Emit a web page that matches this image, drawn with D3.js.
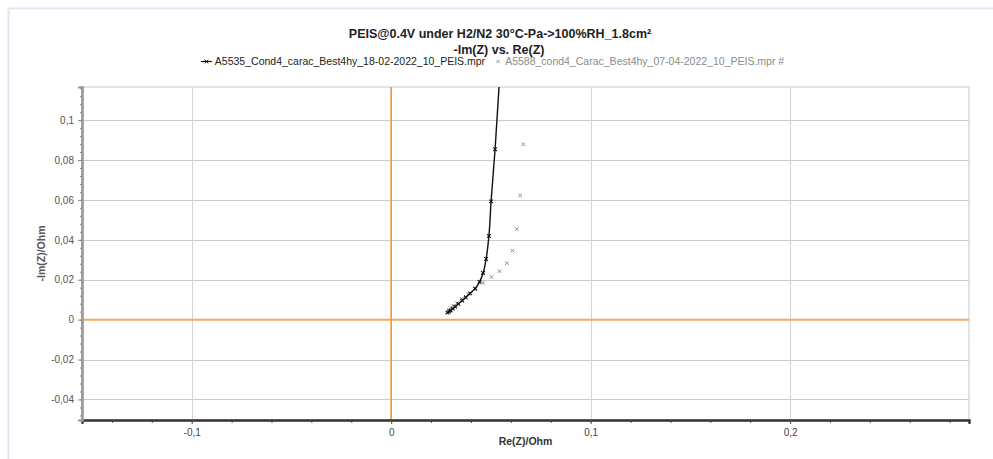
<!DOCTYPE html>
<html>
<head>
<meta charset="utf-8">
<script src="https://cdn.jsdelivr.net/npm/d3@7"></script>
<style>
  html, body { margin: 0; padding: 0; background: #fff; }
  svg { display: block; font-family: "Liberation Sans", Arial, sans-serif; }
</style>
</head>
<body>
<svg id="chart" width="993" height="459"></svg>
<script>
// Nyquist data: Re(Z) and -Im(Z) in Ohm
const seriesNames = [
  "A5535_Cond4_carac_Best4hy_18-02-2022_10_PEIS.mpr",
  "A5588_cond4_Carac_Best4hy_07-04-2022_10_PEIS.mpr #"
];
const reA = [0.0282, 0.0290, 0.0298, 0.0309, 0.0321, 0.0337, 0.0356, 0.0374, 0.0396, 0.0421, 0.0443, 0.0461, 0.0476, 0.0490, 0.0501, 0.0521, 0.0548];
const imA = [0.0035, 0.0040, 0.0046, 0.0055, 0.0065, 0.0079, 0.0095, 0.0112, 0.0132, 0.0155, 0.0189, 0.0234, 0.0304, 0.0420, 0.0593, 0.0854, 0.1280];
const reB = [0.0289, 0.0299, 0.0313, 0.0329, 0.0354, 0.0386, 0.0421, 0.0460, 0.0503, 0.0543, 0.0580, 0.0608, 0.0630, 0.0647, 0.0663];
const imB = [0.0049, 0.0057, 0.0069, 0.0082, 0.0104, 0.0129, 0.0154, 0.0185, 0.0214, 0.0243, 0.0283, 0.0346, 0.0453, 0.0622, 0.0879];

const xDomain = [-0.155, 0.2897];
const yDomain = [-0.0503, 0.1166];
const xTicks = [-0.1, 0, 0.1, 0.2];
const xTickLabels = ["-0,1", "0", "0,1", "0,2"];
const yTicks = [-0.04, -0.02, 0, 0.02, 0.04, 0.06, 0.08, 0.1];
const yTickLabels = ["-0,04", "-0,02", "0", "0,02", "0,04", "0,06", "0,08", "0,1"];

const svg = d3.select("#chart");
const W = 993, H = 459;
const m = { left: 82, right: 969, top: 87, bottom: 420 };

const x = d3.scaleLinear().domain(xDomain).range([m.left, m.right]);
const y = d3.scaleLinear().domain(yDomain).range([m.bottom, m.top]);

// outer frame lines
svg.append("line").attr("x1", 8).attr("x2", W).attr("y1", 8.5).attr("y2", 8.5)
  .attr("stroke", "#dfe9f6").attr("stroke-width", 2);
svg.append("line").attr("x1", 8.5).attr("x2", 8.5).attr("y1", 8).attr("y2", H)
  .attr("stroke", "#dfe9f6").attr("stroke-width", 2);

// titles
svg.append("text").attr("x", 500).attr("y", 38).attr("text-anchor", "middle")
  .attr("font-size", 12.5).attr("font-weight", "bold").attr("fill", "#222")
  .text("PEIS@0.4V under H2/N2 30°C-Pa->100%RH_1.8cm²");
svg.append("text").attr("x", 499).attr("y", 53.5).attr("text-anchor", "middle")
  .attr("font-size", 12.5).attr("font-weight", "bold").attr("fill", "#222")
  .text("-Im(Z) vs. Re(Z)");

// legend
const leg = svg.append("g").attr("font-size", 10.5);
const legA = leg.append("g");
legA.append("line").attr("x1", 0).attr("x2", 11).attr("y1", 0).attr("y2", 0).attr("stroke", "#111").attr("stroke-width", 1.2);
legA.append("path").attr("d", d3.symbol(d3.symbolTimes, 10)()).attr("transform", "translate(5.5,0)").attr("stroke", "#111").attr("fill", "none").attr("stroke-width", 1);
const tA = legA.append("text").attr("x", 14).attr("y", 3.8).attr("fill", "#222").text(seriesNames[0]);
const legB = leg.append("g");
legB.append("path").attr("d", d3.symbol(d3.symbolTimes, 9)()).attr("stroke", "#999").attr("fill", "none").attr("stroke-width", 1);
const tB = legB.append("text").attr("x", 7).attr("y", 3.8).attr("fill", "#8a8a8a").text(seriesNames[1]);
const wA = 14 + tA.node().getComputedTextLength();
const wB = 7 + tB.node().getComputedTextLength();
const gap = 10;
const legStart = 491 - (wA + gap + wB) / 2;
legA.attr("transform", `translate(${legStart},61.5)`);
legB.attr("transform", `translate(${legStart + wA + gap + 3},61.5)`);

// plot background and grid
svg.append("rect").attr("x", m.left).attr("y", m.top)
  .attr("width", m.right - m.left).attr("height", m.bottom - m.top)
  .attr("fill", "#fff").attr("stroke", "#dadada").attr("stroke-width", 1.5);

const grid = svg.append("g");
grid.selectAll(".gy").data(yTicks.filter(v => v !== 0)).join("line")
  .attr("x1", m.left).attr("x2", m.right)
  .attr("y1", d => Math.round(y(d)) + 0.5).attr("y2", d => Math.round(y(d)) + 0.5)
  .attr("stroke", "#cccccc").attr("stroke-width", 1);
grid.selectAll(".gx").data(xTicks.filter(v => v !== 0)).join("line")
  .attr("y1", m.top).attr("y2", m.bottom)
  .attr("x1", d => Math.round(x(d)) + 0.5).attr("x2", d => Math.round(x(d)) + 0.5)
  .attr("stroke", "#d4d4d4").attr("stroke-width", 1);

// zero lines
svg.append("line").attr("x1", m.left).attr("x2", m.right)
  .attr("y1", y(0)).attr("y2", y(0)).attr("stroke", "#f3a862").attr("stroke-width", 2);
svg.append("line").attr("y1", m.top).attr("y2", m.bottom)
  .attr("x1", x(0)).attr("x2", x(0)).attr("stroke", "#f5952e").attr("stroke-width", 1.6);

// axes
const xAxis = d3.axisBottom(x).tickValues(xTicks).tickFormat((d, i) => xTickLabels[i]).tickSize(4).tickPadding(5);
const xMinor = d3.axisBottom(x).tickValues(d3.range(-0.14, 0.2801, 0.02)).tickFormat("").tickSize(3);
const yAxis = d3.axisLeft(y).tickValues(yTicks).tickFormat((d, i) => yTickLabels[i]).tickSize(4).tickPadding(4);
const yMinor = d3.axisLeft(y).tickValues(d3.range(-0.048, 0.1161, 0.004)).tickFormat("").tickSize(2);

const gxm = svg.append("g").attr("transform", `translate(0,${m.bottom})`).call(xMinor);
const gx = svg.append("g").attr("transform", `translate(0,${m.bottom})`).call(xAxis);
const gym = svg.append("g").attr("transform", `translate(${m.left},0)`).call(yMinor);
const gy = svg.append("g").attr("transform", `translate(${m.left},0)`).call(yAxis);

[gx, gxm].forEach(g => {
  g.select(".domain").attr("stroke", "#333").attr("stroke-width", 2);
  g.selectAll(".tick line").attr("stroke", "#555");
});
[gy, gym].forEach(g => {
  g.select(".domain").attr("stroke", "#999").attr("stroke-width", 2.2);
  g.selectAll(".tick line").attr("stroke", "#888");
});
gx.selectAll("text").attr("font-size", 10).attr("fill", "#444").attr("font-family", "Liberation Sans, Arial, sans-serif");
gy.selectAll("text").attr("font-size", 10).attr("fill", "#555").attr("font-family", "Liberation Sans, Arial, sans-serif");

// axis titles
svg.append("text").attr("x", (m.left + m.right) / 2).attr("y", 445).attr("text-anchor", "middle")
  .attr("font-size", 10.5).attr("font-weight", "bold").attr("fill", "#333").text("Re(Z)/Ohm");
svg.append("text").attr("transform", `translate(45,${(m.top + m.bottom) / 2}) rotate(-90)`)
  .attr("text-anchor", "middle").attr("font-size", 10.5).attr("font-weight", "bold").attr("fill", "#555").text("-Im(Z)/Ohm");

// data
svg.append("clipPath").attr("id", "clip").append("rect")
  .attr("x", m.left).attr("y", m.top).attr("width", m.right - m.left).attr("height", m.bottom - m.top);
const plot = svg.append("g").attr("clip-path", "url(#clip)");

const dataA = reA.map((v, i) => [v, imA[i]]);
const dataB = reB.map((v, i) => [v, imB[i]]);

plot.append("path").datum(dataA)
  .attr("d", d3.line().x(d => x(d[0])).y(d => y(d[1])).curve(d3.curveMonotoneY))
  .attr("fill", "none").attr("stroke", "#111").attr("stroke-width", 1.4);

plot.selectAll(".mB").data(dataB).join("path")
  .attr("d", d3.symbol(d3.symbolTimes, 10)())
  .attr("transform", d => `translate(${x(d[0])},${y(d[1])})`)
  .attr("stroke", "#8c8c8c").attr("fill", "none").attr("stroke-width", 1);

plot.selectAll(".mA").data(dataA).join("path")
  .attr("d", d3.symbol(d3.symbolTimes, 10)())
  .attr("transform", d => `translate(${x(d[0])},${y(d[1])})`)
  .attr("stroke", "#111").attr("fill", "none").attr("stroke-width", 1.1);
</script>
</body>
</html>
